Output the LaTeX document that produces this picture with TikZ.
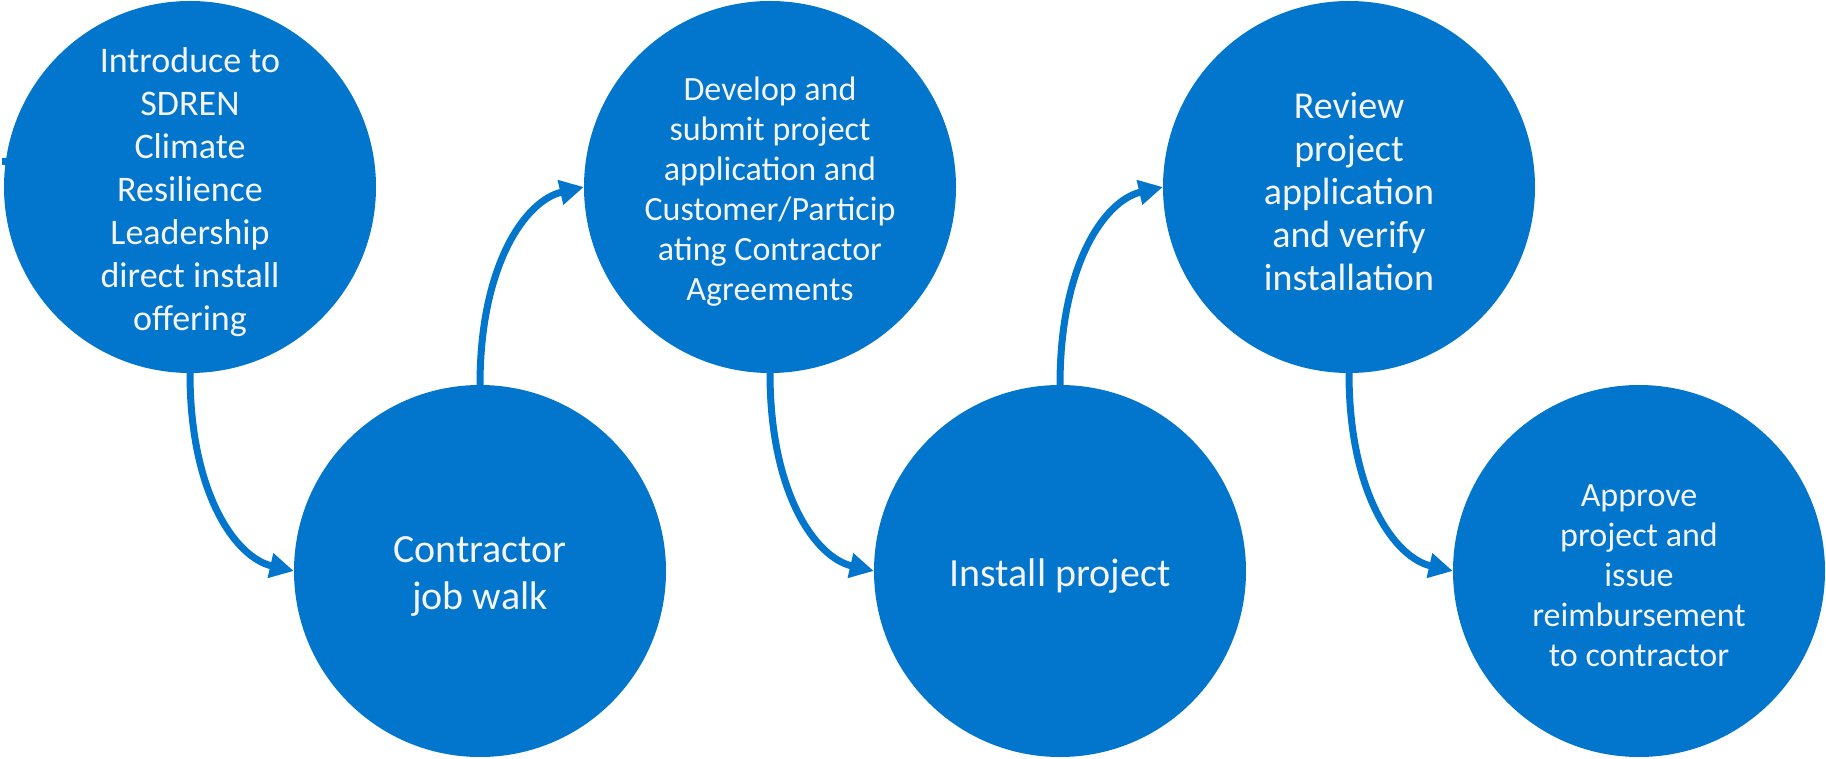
\documentclass[tikz,border=0pt]{standalone}
\usepackage{fontspec}
\setmainfont{Carlito}
\usetikzlibrary{arrows.meta}
\definecolor{stepblue}{RGB}{2,117,204}
\definecolor{steptext}{RGB}{244,244,244}
\tikzset{
  stepcircle/.style={circle, fill=stepblue, draw=none, minimum size=372pt, inner sep=0pt},
  steplabel/.style={text=steptext, align=center, inner sep=0pt, yshift=-5pt},
  flowarrow/.style={draw=stepblue, line width=7pt, -{Triangle[length=24pt,width=24pt]}}
}
\begin{document}
\begin{tikzpicture}[x=1pt,y=-1pt]
\useasboundingbox (0,0) rectangle (1826,759);
\node[stepcircle] (c1) at (190,187) {};
\node[stepcircle] (c2) at (480,571) {};
\node[stepcircle] (c3) at (770,187) {};
\node[stepcircle] (c4) at (1060,571) {};
\node[stepcircle] (c5) at (1349,187) {};
\node[stepcircle] (c6) at (1639,571) {};
\node[steplabel, font=\fontsize{36}{43}\selectfont] (t1) at (c1.center) {Introduce to\\SDREN\\Climate\\Resilience\\Leadership\\direct install\\offering};
\node[steplabel, font=\fontsize{40}{47}\selectfont] (t2) at (c2.center) {Contractor\\job walk};
\node[steplabel, font=\fontsize{34}{40}\selectfont] (t3) at (c3.center) {Develop and\\submit project\\application and\\Customer/Particip\\ating Contractor\\Agreements};
\node[steplabel, font=\fontsize{40}{47}\selectfont] (t4) at (c4.center) {Install project};
\node[steplabel, font=\fontsize{38}{43}\selectfont] (t5) at (c5.center) {Review\\project\\application\\and verify\\installation};
\node[steplabel, font=\fontsize{34}{40}\selectfont] (t6) at (c6.center) {Approve\\project and\\issue\\reimbursement\\to contractor};
\coordinate (stub) at (2,162);
\draw[stepblue, line width=7pt] (stub) -- ([xshift=6pt]c1.west |- stub);
\draw[flowarrow] (c1.south) .. controls +(0,120) and +(-58.4,-13.5) .. (c2.west);
\draw[flowarrow] (c2.north) .. controls +(0,-120) and +(-58.4,13.5) .. (c3.west);
\draw[flowarrow] (c3.south) .. controls +(0,120) and +(-58.4,-13.5) .. (c4.west);
\draw[flowarrow] (c4.north) .. controls +(0,-120) and +(-58.4,13.5) .. (c5.west);
\draw[flowarrow] (c5.south) .. controls +(0,120) and +(-58.4,-13.5) .. (c6.west);
\end{tikzpicture}
\end{document}
